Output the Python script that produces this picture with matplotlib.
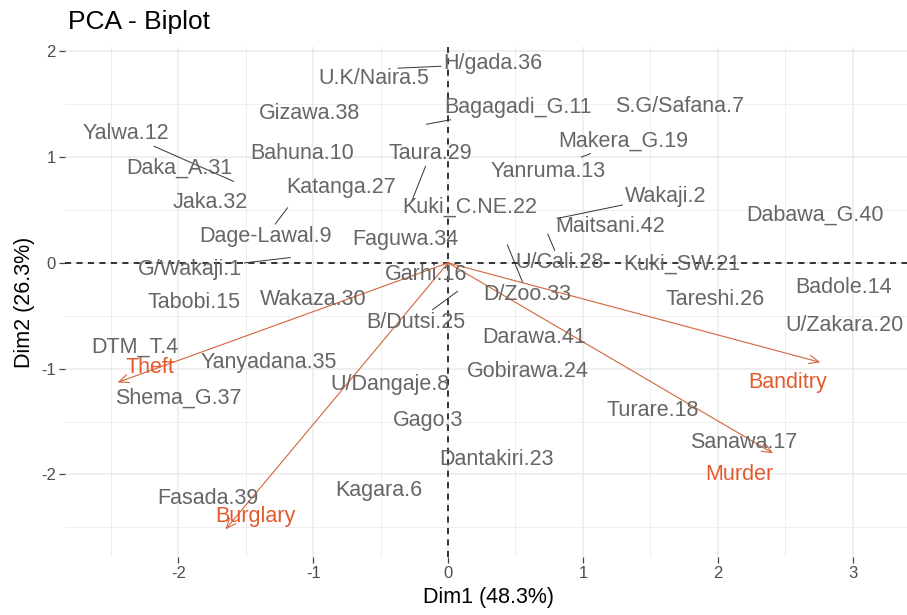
import matplotlib
matplotlib.use("Agg")
import matplotlib.pyplot as plt
from matplotlib.ticker import MultipleLocator
import numpy as np

plt.rcParams['font.family'] = ['Liberation Sans', 'DejaVu Sans']
plt.rcParams['axes.unicode_minus'] = False

# Individuals: scores on Dim1/Dim2 and where each text label sits
ind_names = [
    "G/Wakaji.1", "Wakaji.2", "Gago.3", "DTM_T.4", "U.K/Naira.5", "Kagara.6",
    "S.G/Safana.7", "U/Dangaje.8", "Dage-Lawal.9", "Bahuna.10", "Bagagadi_G.11",
    "Yalwa.12", "Yanruma.13", "Badole.14", "Tabobi.15", "Garhi.16", "Sanawa.17",
    "Turare.18", "Makera_G.19", "U/Zakara.20", "Kuki_SW.21", "Kuki_C.NE.22",
    "Dantakiri.23", "Gobirawa.24", "B/Dutsi.25", "Tareshi.26", "Katanga.27",
    "U/Cali.28", "Taura.29", "Wakaza.30", "Daka_A.31", "Jaka.32", "D/Zoo.33",
    "Faguwa.34", "Yanyadana.35", "H/gada.36", "Shema_G.37", "Gizawa.38",
    "Fasada.39", "Dabawa_G.40", "Darawa.41", "Maitsani.42",
]
ind_x = [-1.17, 0.81, -0.15, -2.32, -0.55, -0.51, 1.72, -0.43, -1.19, -1.08,
         -0.16, -1.59, 0.74, 2.93, -1.88, -0.16, 2.19, 1.52, 0.99, 2.94,
         1.73, 0.16, 0.36, 0.59, 0.07, 1.98, -0.79, 0.74, -0.27, -1.00,
         -1.99, -1.76, 0.44, -0.32, -1.33, -0.37, -2.00, -1.03, -1.78, 2.72,
         0.64, 1.20]
ind_y = [0.05, 0.42, -1.49, -0.80, 1.74, -2.15, 1.48, -1.15, 0.52, 1.03,
         1.31, 0.77, 0.86, -0.23, -0.37, -0.11, -1.70, -1.40, 1.00, -0.59,
         -0.01, 0.53, -1.86, -1.03, -0.27, -0.35, 0.71, 0.27, 0.58, -0.35,
         0.89, 0.57, 0.17, 0.22, -0.94, 1.84, -1.28, 1.41, -2.23, 0.45,
         -0.71, 0.34]
lab_x = [-1.91, 1.61, -0.15, -2.32, -0.55, -0.51, 1.72, -0.43, -1.35, -1.08,
         0.52, -2.39, 0.74, 2.93, -1.88, -0.16, 2.19, 1.52, 1.30, 2.94,
         1.73, 0.16, 0.36, 0.59, -0.24, 1.98, -0.79, 0.83, -0.13, -1.00,
         -1.99, -1.76, 0.59, -0.32, -1.33, 0.33, -2.00, -1.03, -1.78, 2.72,
         0.64, 1.20]
lab_y = [-0.06, 0.63, -1.49, -0.80, 1.74, -2.15, 1.48, -1.15, 0.25, 1.03,
         1.47, 1.22, 0.86, -0.23, -0.37, -0.11, -1.70, -1.40, 1.15, -0.59,
         -0.01, 0.53, -1.86, -1.03, -0.56, -0.35, 0.71, 0.00, 1.03, -0.35,
         0.89, 0.57, -0.30, 0.22, -0.94, 1.88, -1.28, 1.41, -2.23, 0.45,
         -0.71, 0.34]

# Variables: loading arrows and their labels
var_names = ["Theft", "Burglary", "Banditry", "Murder"]
var_x = [-2.45, -1.65, 2.76, 2.41]
var_y = [-1.13, -2.52, -0.94, -1.80]
var_lab_x = [-2.21, -1.43, 2.52, 2.16]
var_lab_y = [-0.99, -2.40, -1.13, -2.00]

x_ticks = [-2, -1, 0, 1, 2, 3]
y_ticks = [-2, -1, 0, 1, 2]

IND_COL = "#666666"
VAR_COL = "#E45A2C"
ARROW_COL = "#D2653A"
GRID_COL = "#EBEBEB"

W, H = 907, 615
fig = plt.figure(figsize=(W / 100, H / 100), dpi=100)
left, right, top, bottom = 65, 912, 47, 557
ax = fig.add_axes([left / W, 1 - bottom / H, (right - left) / W, (bottom - top) / H])
ax.set_xlim(-2.84, 3.44)
ax.set_ylim(-2.78, 2.04)

for s in ax.spines.values():
    s.set_visible(False)

ax.set_xticks(x_ticks)
ax.set_yticks(y_ticks)
ax.xaxis.set_minor_locator(MultipleLocator(0.5))
ax.yaxis.set_minor_locator(MultipleLocator(0.5))
ax.grid(True, which="major", color=GRID_COL, lw=1.1, zorder=0)
ax.grid(True, which="minor", color=GRID_COL, lw=0.6, zorder=0)
ax.tick_params(which="major", length=4, width=0.9, color="#444444",
               labelsize=12, labelcolor="#4D4D4D", pad=2.5)
ax.tick_params(which="minor", length=0)
ax.set_axisbelow(True)

ax.set_xlabel("Dim1 (48.3%)", fontsize=15.5, color="black")
ax.set_ylabel("Dim2 (26.3%)", fontsize=15.5, color="black")
ax.xaxis.set_label_coords(0.5, -0.080)
ax.xaxis.label.set_va("center")
ax.yaxis.set_label_coords(-0.0484, 0.5)
ax.yaxis.label.set_va("center")

fig.text(68 / W, 1 - 22 / H, "PCA - Biplot", fontsize=19, ha="left", va="center")

# reference lines through the origin
ax.axhline(0, color="black", lw=1.1, ls=(0, (4, 3.5)), zorder=2)
ax.axvline(0, color="black", lw=1.1, ls=(0, (4, 3.5)), zorder=2)

# variable arrows
for vx, vy in zip(var_x, var_y):
    ax.annotate("", xy=(vx, vy), xytext=(0, 0),
                arrowprops=dict(arrowstyle="->,head_length=0.7,head_width=0.3",
                                color=ARROW_COL, lw=0.8, shrinkA=0, shrinkB=0),
                zorder=3)
for name, lx, ly in zip(var_names, var_lab_x, var_lab_y):
    ax.text(lx, ly, name, fontsize=15.5, color=VAR_COL, ha="center", va="center",
            zorder=4)

# individual labels
texts = []
for name, lx, ly in zip(ind_names, lab_x, lab_y):
    t = ax.text(lx, ly, name, fontsize=15.5, color=IND_COL, ha="center",
                va="center", zorder=4)
    texts.append(t)

# leader segments from each displaced label back to its point
fig.canvas.draw()
renderer = fig.canvas.get_renderer()
inv = ax.transData.inverted()
pad = 2.0
for t, px, py, lx, ly in zip(texts, ind_x, ind_y, lab_x, lab_y):
    if abs(px - lx) < 1e-9 and abs(py - ly) < 1e-9:
        continue
    bb = t.get_window_extent(renderer)
    cx, cy = (bb.x0 + bb.x1) / 2, (bb.y0 + bb.y1) / 2
    hw, hh = bb.width / 2 + pad, bb.height / 2 + pad
    p = ax.transData.transform((px, py))
    dx, dy = p[0] - cx, p[1] - cy
    if abs(dx) <= hw and abs(dy) <= hh:
        continue
    s = min(hw / abs(dx) if dx else np.inf, hh / abs(dy) if dy else np.inf)
    start = inv.transform((cx + s * dx, cy + s * dy))
    ax.plot([start[0], px], [start[1], py], color="#333333", lw=0.7, zorder=3)

fig.savefig("out.png", dpi=100)
